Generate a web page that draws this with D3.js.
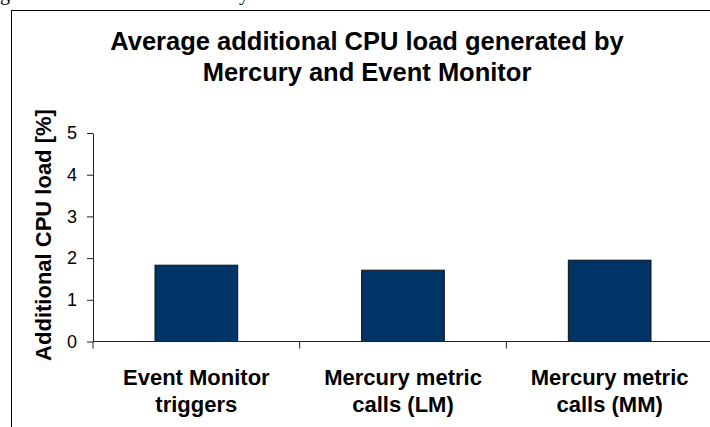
<!DOCTYPE html>
<html>
<head>
<meta charset="utf-8">
<script src="https://cdn.jsdelivr.net/npm/d3@7"></script>
<style>
  html, body { margin: 0; padding: 0; background: #fff; overflow: hidden; }
  svg { display: block; font-family: Arial, "Liberation Sans", sans-serif; }
</style>
</head>
<body>
<svg id="chart" width="710" height="427"></svg>
<script>
// chart data
var categories = [
  ['Event Monitor', 'triggers'],
  ['Mercury metric', 'calls (LM)'],
  ['Mercury metric', 'calls (MM)']
];
var cpuLoad = [1.83, 1.71, 1.95];
var yTicks = [0, 1, 2, 3, 4, 5];
var titleLines = ['Average additional CPU load generated by', 'Mercury and Event Monitor'];

var svg = d3.select('#chart');

// leftovers of the caption line above the figure (only descenders visible)
svg.append('text').attr('x', 0).attr('y', 0)
  .style('font-family', '"Liberation Serif", "Times New Roman", serif')
  .style('font-size', '20px').text('g');
svg.append('text').attr('x', 239).attr('y', 0)
  .style('font-family', '"Liberation Serif", "Times New Roman", serif')
  .style('font-size', '20px').text('y');

// chart area border (runs off the right / bottom edge)
svg.append('rect')
  .attr('x', 11.5).attr('y', 10.5)
  .attr('width', 740).attr('height', 440)
  .attr('fill', '#fff')
  .attr('stroke', '#000')
  .attr('stroke-width', 1);

var plotLeft = 93, plotRight = 713, plotTop = 133, plotBottom = 341.5;

var x = d3.scaleBand()
  .domain(d3.range(categories.length))
  .range([plotLeft, plotRight])
  .paddingInner(0.6)
  .paddingOuter(0.3);

var y = d3.scaleLinear()
  .domain([0, 5])
  .range([plotBottom, plotTop]);

// title
svg.append('g').selectAll('text')
  .data(titleLines)
  .enter()
  .append('text')
  .attr('x', 367)
  .attr('y', function(d, i) { return 50 + i * 31; })
  .attr('text-anchor', 'middle')
  .style('font-size', '25.5px')
  .style('font-weight', 'bold')
  .attr('fill', '#000')
  .text(function(d) { return d; });

// bars
svg.append('g').selectAll('rect')
  .data(cpuLoad)
  .enter()
  .append('rect')
  .attr('x', function(d, i) { return x(i); })
  .attr('y', function(d) { return y(d); })
  .attr('width', x.bandwidth())
  .attr('height', function(d) { return y(0) - y(d); })
  .attr('fill', '#003366')
  .attr('stroke', '#111')
  .attr('stroke-width', 1);

// y axis
var yAxis = svg.append('g')
  .attr('transform', 'translate(' + plotLeft + ',0)')
  .call(d3.axisLeft(y).tickValues(yTicks).tickFormat(d3.format('d'))
    .tickSize(6).tickPadding(10).tickSizeOuter(0));
yAxis.select('.domain').attr('stroke', '#222');
yAxis.selectAll('.tick line').attr('stroke', '#222');
yAxis.selectAll('.tick text')
  .style('font-size', '18px')
  .style('font-family', 'Arial, "Liberation Sans", sans-serif')
  .attr('fill', '#000');

// x axis line + category separators
var xAxis = svg.append('g');
xAxis.append('line')
  .attr('x1', plotLeft).attr('x2', plotRight)
  .attr('y1', y(0)).attr('y2', y(0))
  .attr('stroke', '#222');
var sepPos = d3.range(categories.length + 1).map(function(i) {
  return plotLeft + x.step() * i;
});
xAxis.selectAll('line.sep')
  .data(sepPos)
  .enter()
  .append('line')
  .attr('class', 'sep')
  .attr('x1', function(d) { return d; })
  .attr('x2', function(d) { return d; })
  .attr('y1', y(0))
  .attr('y2', y(0) + 7)
  .attr('stroke', '#222');

// category labels
var labels = svg.append('g').selectAll('text')
  .data(categories)
  .enter()
  .append('text')
  .attr('text-anchor', 'middle')
  .style('font-size', '22px')
  .style('font-weight', 'bold')
  .attr('fill', '#000');
labels.selectAll('tspan')
  .data(function(d, i) { return d.map(function(t) { return { t: t, i: i }; }); })
  .enter()
  .append('tspan')
  .attr('x', function(d) { return x(d.i) + x.bandwidth() / 2; })
  .attr('y', function(d, j) { return 385 + j * 27; })
  .text(function(d) { return d.t; });

// y axis title
svg.append('text')
  .attr('transform', 'translate(51,' + 235 + ') rotate(-90)')
  .attr('text-anchor', 'middle')
  .style('font-size', '22px')
  .style('font-weight', 'bold')
  .attr('fill', '#000')
  .text('Additional CPU load [%]');
</script>
</body>
</html>
